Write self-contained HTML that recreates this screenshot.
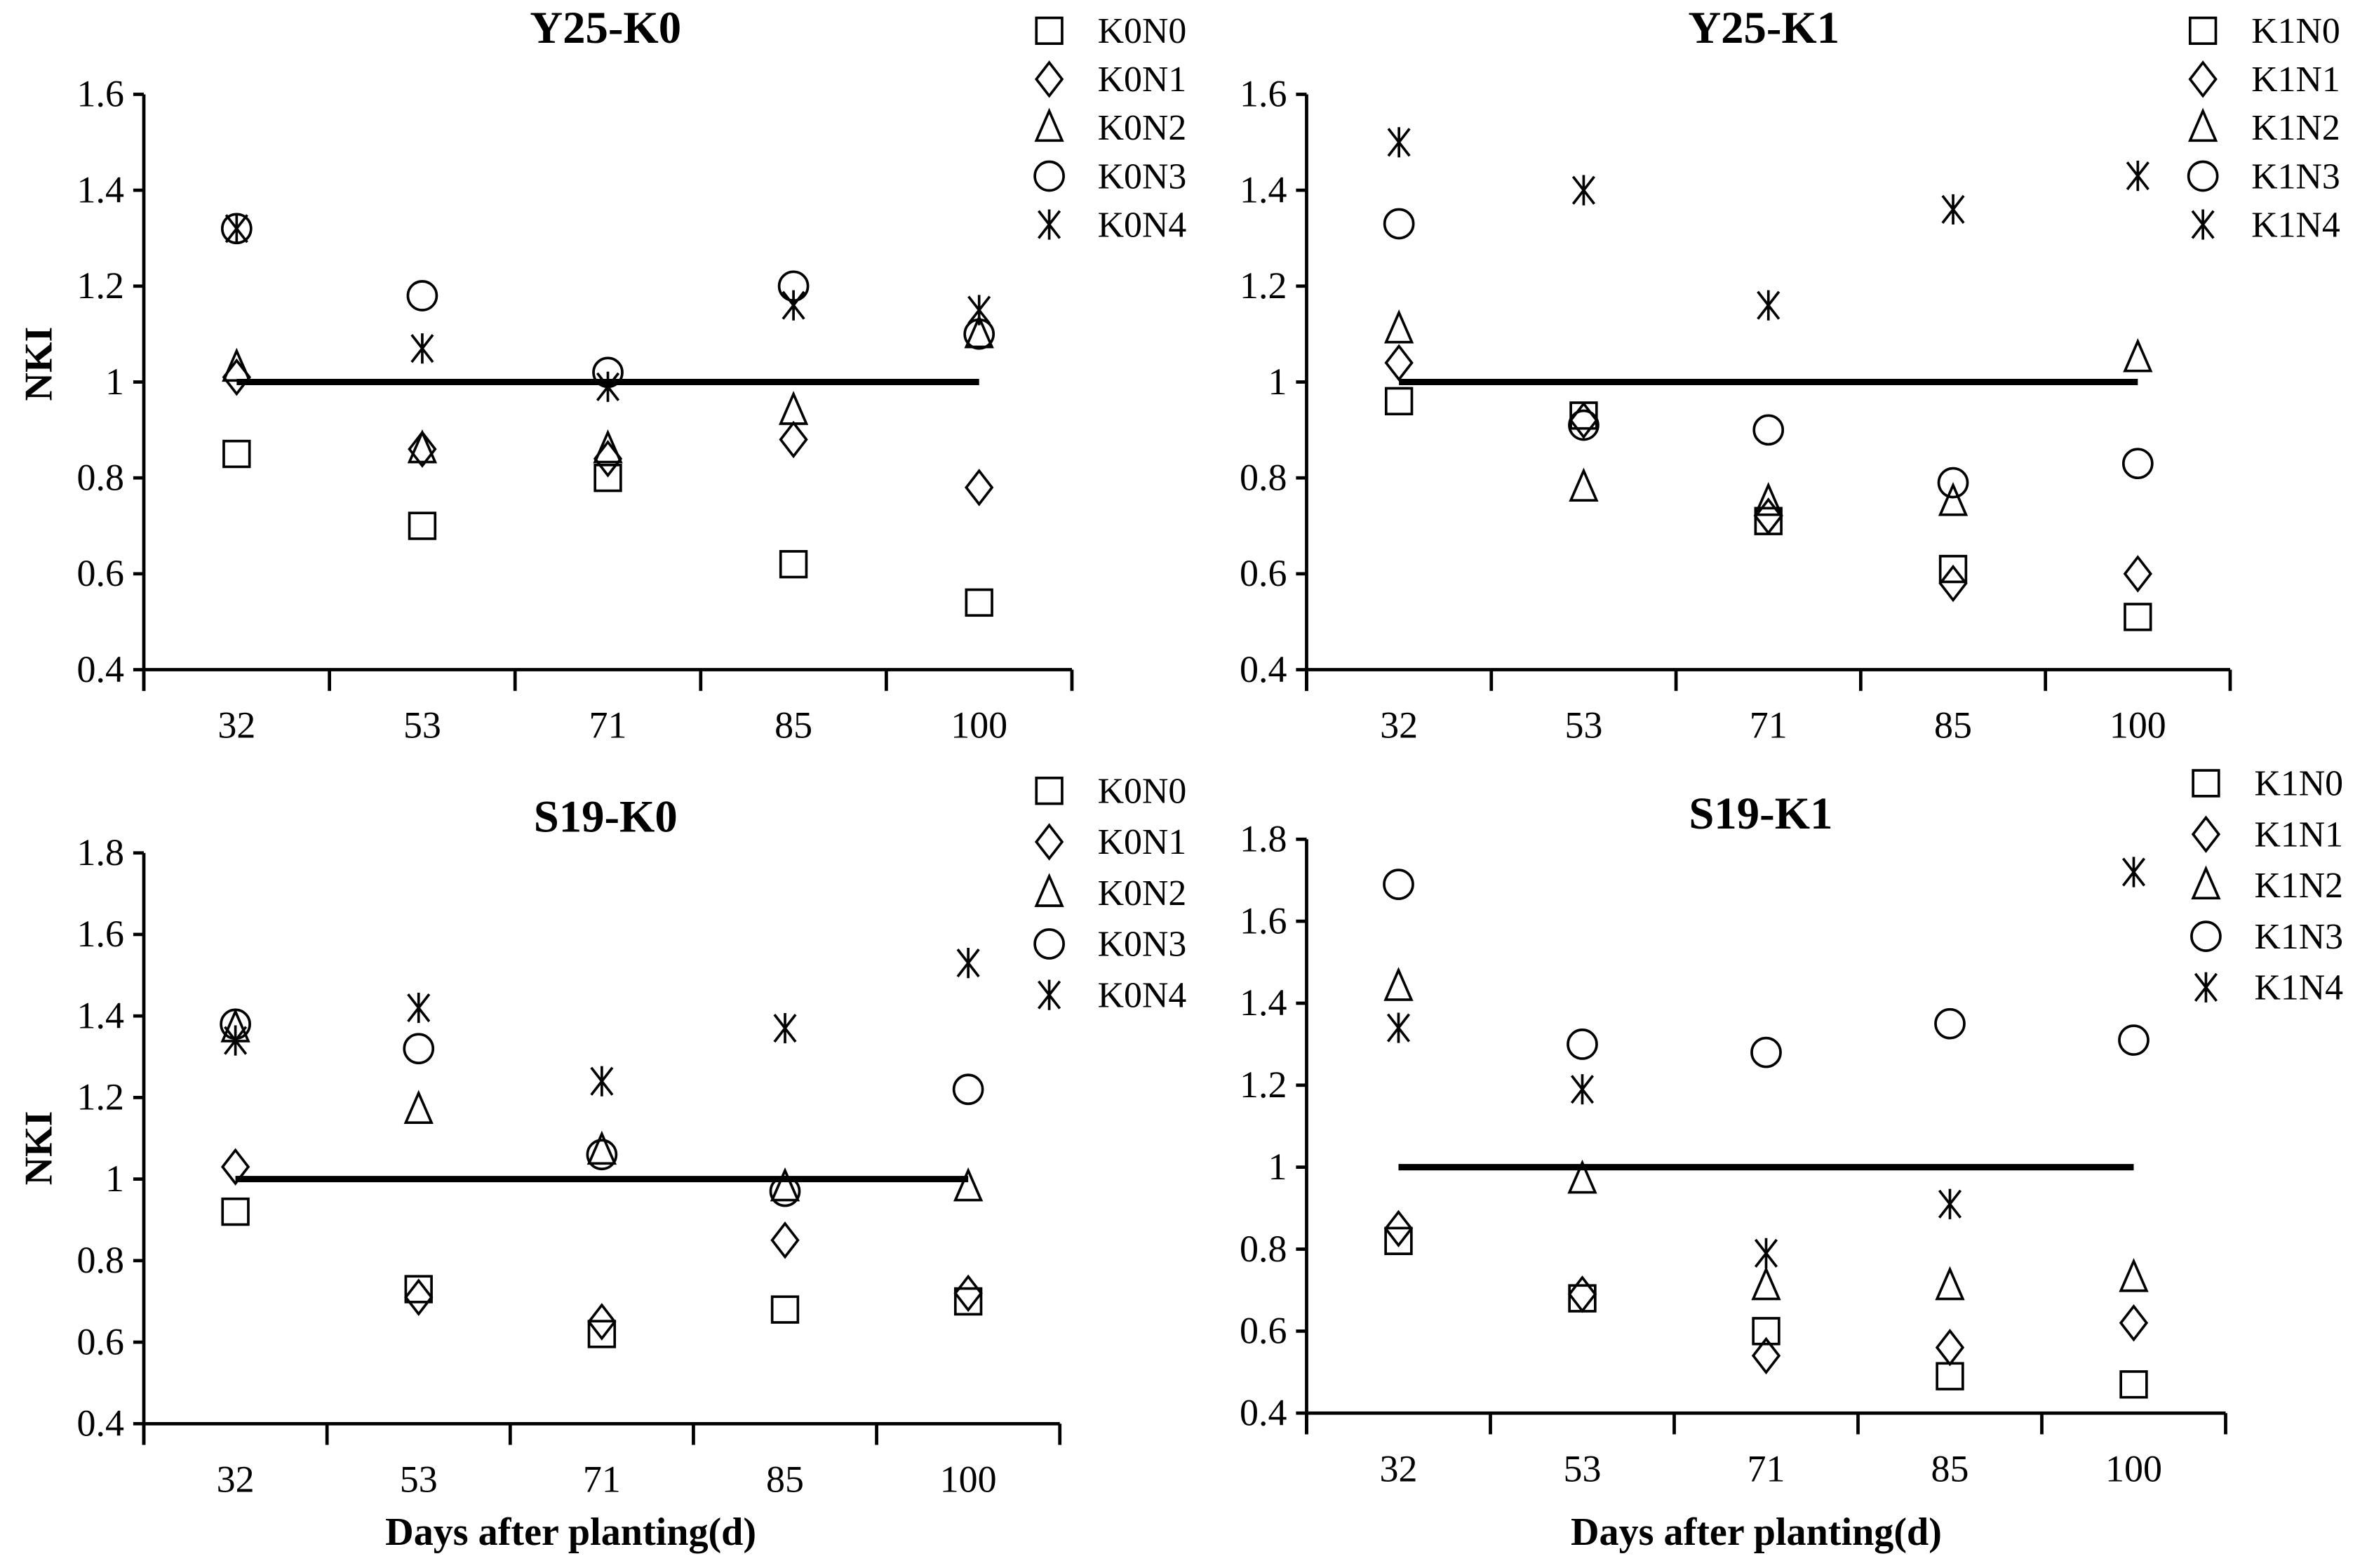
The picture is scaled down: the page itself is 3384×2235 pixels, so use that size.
<!DOCTYPE html>
<html><head><meta charset="utf-8"><style>
html,body{margin:0;padding:0;background:#fff}
svg{display:block}
text{font-family:"Liberation Serif",serif;fill:#000}
</style></head><body>
<svg id="chart" width="3384" height="2235" viewBox="0 0 1568 1035" xmlns="http://www.w3.org/2000/svg"></svg>
<script>
const categories = ["32","53","71","85","100"];
const seriesNames0 = ["K0N0","K0N1","K0N2","K0N3","K0N4"];
const seriesNames1 = ["K1N0","K1N1","K1N2","K1N3","K1N4"];
const y25k0_N0 = [0.85,0.70,0.80,0.62,0.54];
const y25k0_N1 = [1.01,0.86,0.84,0.88,0.78];
const y25k0_N2 = [1.03,0.86,0.86,0.94,1.10];
const y25k0_N3 = [1.32,1.18,1.02,1.20,1.10];
const y25k0_N4 = [1.32,1.07,0.99,1.16,1.15];
const y25k1_N0 = [0.96,0.93,0.71,0.61,0.51];
const y25k1_N1 = [1.04,0.92,0.72,0.58,0.60];
const y25k1_N2 = [1.11,0.78,0.75,0.75,1.05];
const y25k1_N3 = [1.33,0.91,0.90,0.79,0.83];
const y25k1_N4 = [1.50,1.40,1.16,1.36,1.43];
const s19k0_N0 = [0.92,0.73,0.62,0.68,0.70];
const s19k0_N1 = [1.03,0.71,0.65,0.85,0.72];
const s19k0_N2 = [1.37,1.17,1.07,0.98,0.98];
const s19k0_N3 = [1.38,1.32,1.06,0.97,1.22];
const s19k0_N4 = [1.34,1.42,1.24,1.37,1.53];
const s19k1_N0 = [0.82,0.68,0.60,0.49,0.47];
const s19k1_N1 = [0.85,0.69,0.54,0.56,0.62];
const s19k1_N2 = [1.44,0.97,0.71,0.71,0.73];
const s19k1_N3 = [1.69,1.30,1.28,1.35,1.31];
const s19k1_N4 = [1.34,1.19,0.79,0.91,1.72];
const ticksA = [0.4,0.6,0.8,1,1.2,1.4,1.6];
const ticksB = [0.4,0.6,0.8,1,1.2,1.4,1.6,1.8];
const refValue = 1;

const NS="http://www.w3.org/2000/svg";
const svg=document.getElementById('chart');
function mk(tag,attrs,parent){const e=document.createElementNS(NS,tag);for(const k in attrs)e.setAttribute(k,attrs[k]);(parent||svg).appendChild(e);return e;}
function txt(s,attrs,parent){const e=mk('text',attrs,parent);e.textContent=s;return e;}

function marker(g,type,cx,cy){
  const st={fill:'none',stroke:'#000','stroke-width':1.7};
  let e;
  if(type===0){e=mk('rect',Object.assign({x:cx-8.5,y:cy-8.5,width:17,height:17},st),g);}
  else if(type===1){e=mk('polygon',Object.assign({points:`${cx},${cy-11} ${cx+8.5},${cy} ${cx},${cy+11} ${cx-8.5},${cy}`},st),g);}
  else if(type===2){e=mk('polygon',Object.assign({points:`${cx},${cy-11} ${cx+8.5},${cy+8.5} ${cx-8.5},${cy+8.5}`},st),g);}
  else if(type===3){e=mk('circle',Object.assign({cx:cx,cy:cy,r:9.5},st),g);}
  else {e=mk('path',Object.assign({d:`M${cx-7} ${cy-9}L${cx+7} ${cy+9}M${cx+7} ${cy-9}L${cx-7} ${cy+9}M${cx} ${cy-10}L${cx} ${cy+10}`},st),g);}
  return e;
}

function panel(o){
  const g=mk('g',{});
  
  
  const ymin=o.ticks[0],ymax=o.ticks[o.ticks.length-1];
  const yS=v=>o.yBot-(v-ymin)/(ymax-ymin)*(o.yBot-o.yTop);
  const bw=(o.xR-o.x0)/categories.length;
  const xS=i=>o.x0+bw*(i+0.5);
  const ax=mk('path',{d:`M${o.x0} ${o.yTop}L${o.x0} ${o.yBot+14}M${o.x0} ${o.yBot}L${o.xR} ${o.yBot}`,stroke:'#000','stroke-width':2.2,fill:'none'},g);
  
  
  o.ticks.forEach(t=>{
    const y=yS(t);
    mk('line',{x1:o.x0-7,x2:o.x0,y1:y,y2:y,stroke:'#000','stroke-width':2.2},g);
    const l=txt(String(t),{x:o.x0-13,y:y+8,'font-size':25,'text-anchor':'end'},g);
    
    
  });
  for(let i=0;i<=categories.length;i++){const x=o.x0+bw*i;mk('line',{x1:x,x2:x,y1:o.yBot,y2:o.yBot+14,stroke:'#000','stroke-width':2.2},g);}
  categories.forEach((c,i)=>{
    const l=txt(c,{x:xS(i),y:o.yBot+45,'font-size':25,'text-anchor':'middle'},g);
    
    
  });
  const ref=mk('line',{x1:xS(0),x2:xS(4),y1:yS(refValue),y2:yS(refValue),stroke:'#000','stroke-width':4.2},g);
  
  
  const t=txt(o.title,{x:o.titleX,y:o.titleY,'font-size':30,'font-weight':'bold','text-anchor':'middle'},g);
  
  
  o.series.forEach((arr,s)=>{
    arr.forEach((v,i)=>{
      const m=marker(g,s,xS(i),yS(v));
      
      
    });
    const ly=o.legY+s*o.legStep;
    const lm=marker(g,s,o.legX,ly);
    
    
    const lt=txt(o.names[s],{x:o.legX+32,y:ly+8,'font-size':24},g);
    
    
  });
  if(o.ylab){
    const yl=txt('NKI',{x:0,y:0,'font-size':26,'font-weight':'bold','text-anchor':'middle',transform:`translate(34,${o.ylabY}) rotate(-90)`},g);
    
    
  }
  if(o.xlab){
    const xl=txt('Days after planting(d)',{x:o.xlabX,y:1020,'font-size':26,'font-weight':'bold','text-anchor':'middle'},g);
    
    
  }
}
panel({name:'panel-y25-k0',title:'Y25-K0',titleX:400,titleY:28,x0:95,xR:708,yTop:62,yBot:442,ticks:ticksA,series:[y25k0_N0,y25k0_N1,y25k0_N2,y25k0_N3,y25k0_N4],names:seriesNames0,legX:693,legY:20,legStep:32,ylab:true,ylabY:240});
panel({name:'panel-y25-k1',title:'Y25-K1',titleX:1165,titleY:28,x0:863,xR:1473,yTop:62,yBot:442,ticks:ticksA,series:[y25k1_N0,y25k1_N1,y25k1_N2,y25k1_N3,y25k1_N4],names:seriesNames1,legX:1455,legY:20,legStep:32});
panel({name:'panel-s19-k0',title:'S19-K0',titleX:400,titleY:549,x0:95,xR:700,yTop:563,yBot:940,ticks:ticksB,series:[s19k0_N0,s19k0_N1,s19k0_N2,s19k0_N3,s19k0_N4],names:seriesNames0,legX:693,legY:522,legStep:33.7,ylab:true,ylabY:758,xlab:true,xlabX:377});
panel({name:'panel-s19-k1',title:'S19-K1',titleX:1163,titleY:547,x0:863,xR:1470,yTop:554,yBot:933,ticks:ticksB,series:[s19k1_N0,s19k1_N1,s19k1_N2,s19k1_N3,s19k1_N4],names:seriesNames1,legX:1457,legY:517,legStep:33.7,xlab:true,xlabX:1160});
</script>
</body></html>
